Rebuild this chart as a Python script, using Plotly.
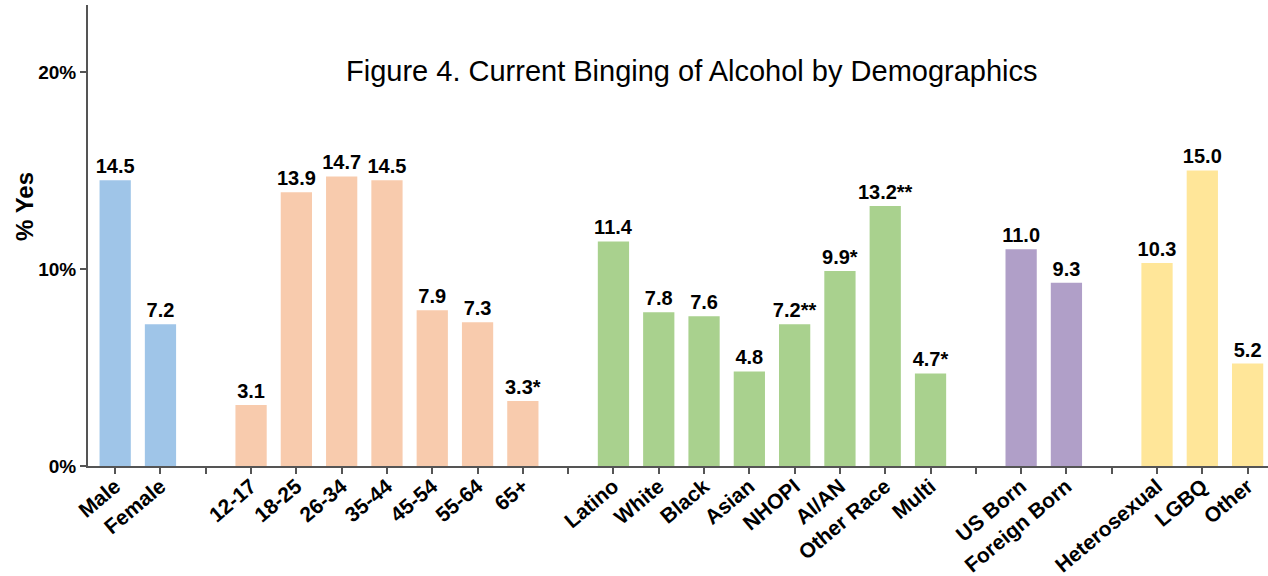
import plotly.graph_objects as go

# ---- data ----
sex_labels = ["Male", "Female"]
sex_values = [14.5, 7.2]
sex_text = ["14.5", "7.2"]

age_labels = ["12-17", "18-25", "26-34", "35-44", "45-54", "55-64", "65+"]
age_values = [3.1, 13.9, 14.7, 14.5, 7.9, 7.3, 3.3]
age_text = ["3.1", "13.9", "14.7", "14.5", "7.9", "7.3", "3.3*"]

race_labels = ["Latino", "White", "Black", "Asian", "NHOPI", "AI/AN", "Other Race", "Multi"]
race_values = [11.4, 7.8, 7.6, 4.8, 7.2, 9.9, 13.2, 4.7]
race_text = ["11.4", "7.8", "7.6", "4.8", "7.2**", "9.9*", "13.2**", "4.7*"]

nativity_labels = ["US Born", "Foreign Born"]
nativity_values = [11.0, 9.3]
nativity_text = ["11.0", "9.3"]

orient_labels = ["Heterosexual", "LGBQ", "Other"]
orient_values = [10.3, 15.0, 5.2]
orient_text = ["10.3", "15.0", "5.2"]

groups = [
    (sex_labels, sex_values, sex_text, "#9fc5e8"),
    (age_labels, age_values, age_text, "#f8cbad"),
    (race_labels, race_values, race_text, "#a9d18e"),
    (nativity_labels, nativity_values, nativity_text, "#b09fc8"),
    (orient_labels, orient_values, orient_text, "#ffe699"),
]

y_tickvals = [0, 10, 20]
y_ticktext = ["0%", "10%", "20%"]

# ---- build category order with blank spacer slots ----
cats, vals, texts, colors = [], [], [], []
for gi, (labs, vs, ts, col) in enumerate(groups):
    if gi > 0:
        spacer = " " * gi
        cats.append(spacer)
        vals.append(None)
        texts.append("")
        colors.append(col)
    cats.extend(labs)
    vals.extend(vs)
    texts.extend(ts)
    colors.extend([col] * len(labs))

FONT = "Liberation Sans, Arial"

fig = go.Figure()
fig.add_trace(go.Bar(
    x=cats, y=vals, text=texts,
    marker=dict(color=colors, line=dict(width=0)),
    textposition="outside",
    constraintext="none",
    cliponaxis=False,
    textfont=dict(family=FONT, size=20, color="black", weight="bold"),
    hoverinfo="skip",
))

fig.add_annotation(
    text="Figure 4. Current Binging of Alcohol by Demographics",
    xref="paper", yref="paper", x=0.512, y=0.857,
    xanchor="center", yanchor="middle", showarrow=False,
    font=dict(family=FONT, size=29, color="black"),
)

# y-axis title placed as rotated text left of the tick labels
fig.add_annotation(
    text="<b>% Yes</b>",
    xref="paper", yref="paper", x=(25 - 88) / 1180, y=0.562,
    xanchor="center", yanchor="middle", showarrow=False, textangle=-90,
    font=dict(family=FONT, size=24, color="black"),
)

fig.update_layout(
    width=1268, height=576,
    margin=dict(l=88, r=0, t=5, b=110),
    paper_bgcolor="white", plot_bgcolor="white",
    showlegend=False,
    bargap=0.31,
    xaxis=dict(
        type="category", categoryorder="array", categoryarray=cats,
        range=[-0.6, len(cats) - 0.55],
        automargin=False,
        showline=True, linecolor="#555555", linewidth=2,
        ticks="outside", ticklen=6, tickwidth=1.5, tickcolor="#555555",
        tickangle=-40,
        ticklabelstandoff=-8,
        tickfont=dict(family=FONT, size=21, color="black", weight="bold"),
        showgrid=False, zeroline=False,
    ),
    yaxis=dict(
        range=[0, 23.4],
        automargin=False,
        tickvals=y_tickvals, ticktext=y_ticktext,
        showline=True, linecolor="#555555", linewidth=2,
        ticks="outside", ticklen=6, tickwidth=1.5, tickcolor="#555555",
        tickfont=dict(family=FONT, size=19, color="black", weight="bold"),
        showgrid=False, zeroline=False,
    ),
)

fig.write_html("out.html", config={"displayModeBar": False},
               post_script="document.body.style.margin='0';")
